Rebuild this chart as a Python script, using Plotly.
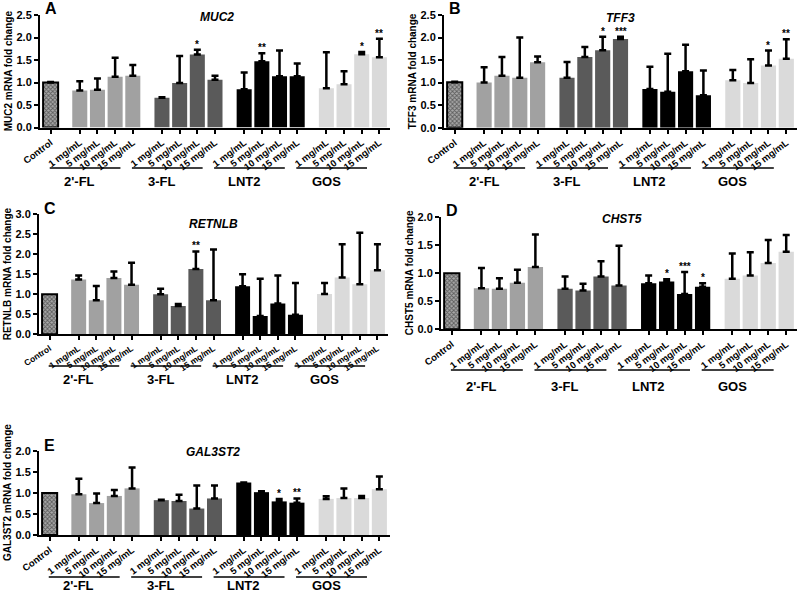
import plotly.graph_objects as go

W, H = 798, 593

categories = ["Control",
              "1 mg/mL", "5 mg/mL", "10 mg/mL", "15 mg/mL",
              "1 mg/mL", "5 mg/mL", "10 mg/mL", "15 mg/mL",
              "1 mg/mL", "5 mg/mL", "10 mg/mL", "15 mg/mL",
              "1 mg/mL", "5 mg/mL", "10 mg/mL", "15 mg/mL"]
groups = ["2'-FL", "3-FL", "LNT2", "GOS"]
group_colors = ["#a1a1a1", "#5a5a5a", "#000000", "#dadada"]
positions = [0,
             1.65, 2.65, 3.65, 4.65,
             6.3, 7.3, 8.3, 9.3,
             10.95, 11.95, 12.95, 13.95,
             15.6, 16.6, 17.6, 18.6]

# Panel A: MUC2
muc2_mean = [1.00, 0.82, 0.84, 1.13, 1.15, 0.66, 0.99, 1.62, 1.06, 0.85, 1.47, 1.14, 1.14, 0.87, 0.96, 1.63, 1.56]
muc2_err = [0.01, 0.21, 0.25, 0.42, 0.24, 0.01, 0.60, 0.11, 0.09, 0.37, 0.18, 0.57, 0.28, 0.80, 0.29, 0.05, 0.41]
muc2_stars = ["", "", "", "", "", "", "", "*", "", "", "**", "", "", "", "", "*", "**"]

# Panel B: TFF3
tff3_mean = [1.01, 1.00, 1.15, 1.11, 1.45, 1.11, 1.57, 1.72, 1.97, 0.86, 0.80, 1.25, 0.72, 1.05, 0.99, 1.38, 1.53]
tff3_err = [0.01, 0.34, 0.42, 0.89, 0.13, 0.35, 0.22, 0.30, 0.05, 0.49, 0.84, 0.59, 0.55, 0.23, 0.53, 0.33, 0.43]
tff3_stars = ["", "", "", "", "", "", "", "*", "***", "", "", "", "", "", "", "*", "**"]

# Panel C: RETNLB
retnlb_mean = [1.00, 1.37, 0.85, 1.41, 1.24, 1.00, 0.71, 1.63, 0.85, 1.20, 0.46, 0.77, 0.49, 1.01, 1.42, 1.25, 1.60]
retnlb_err = [0.00, 0.10, 0.36, 0.16, 0.55, 0.14, 0.05, 0.44, 1.27, 0.30, 0.93, 0.70, 0.79, 0.27, 0.83, 1.29, 0.65]
retnlb_stars = ["", "", "", "", "", "", "", "**", "", "", "", "", "", "", "", "", ""]

# Panel D: CHST5
chst5_mean = [1.00, 0.73, 0.72, 0.83, 1.11, 0.72, 0.69, 0.94, 0.78, 0.82, 0.85, 0.63, 0.76, 0.90, 0.96, 1.18, 1.38]
chst5_err = [0.00, 0.36, 0.19, 0.23, 0.58, 0.22, 0.12, 0.27, 0.71, 0.14, 0.04, 0.39, 0.06, 0.45, 0.41, 0.41, 0.30]
chst5_stars = ["", "", "", "", "", "", "", "", "", "", "*", "***", "*", "", "", "", ""]

# Panel E: GAL3ST2
gal3st2_mean = [1.00, 0.97, 0.76, 0.93, 1.11, 0.83, 0.81, 0.63, 0.87, 1.25, 1.02, 0.80, 0.77, 0.86, 0.88, 0.88, 1.09]
gal3st2_err = [0.00, 0.37, 0.23, 0.14, 0.50, 0.01, 0.15, 0.55, 0.31, 0.00, 0.02, 0.06, 0.10, 0.06, 0.23, 0.05, 0.30]
gal3st2_stars = ["", "", "", "", "", "", "", "", "", "", "", "*", "**", "", "", "", ""]

FONT = "Liberation Sans, Arial, sans-serif"

panels = [
    dict(mean=muc2_mean, err=muc2_err, stars=muc2_stars, gene="MUC2", letter="A", ymax=2.5,
         x0=40, x1=390, yt=15, yb=127.5, ul=168, gl=182, tx=217, ty=17, tfs=9.5, ta=-37),
    dict(mean=tff3_mean, err=tff3_err, stars=tff3_stars, gene="TFF3", letter="B", ymax=2.5,
         x0=444, x1=797, yt=15, yb=127.7, ul=168, gl=182, tx=620, ty=18, tfs=9.5, ta=-37),
    dict(mean=retnlb_mean, err=retnlb_err, stars=retnlb_stars, gene="RETNLB", letter="C", ymax=3.0,
         x0=39, x1=388, yt=214.3, yb=334.3, ul=366, gl=379, tx=213, ty=224, tfs=8.5, ta=-33),
    dict(mean=chst5_mean, err=chst5_err, stars=chst5_stars, gene="CHST5", letter="D", ymax=2.0,
         x0=441, x1=797, yt=217, yb=329.3, ul=370, gl=386, tx=622, ty=219, tfs=9.5, ta=-37),
    dict(mean=gal3st2_mean, err=gal3st2_err, stars=gal3st2_stars, gene="GAL3ST2", letter="E", ymax=2.0,
         x0=39, x1=390, yt=451, yb=535, ul=577, gl=585, tx=213, ty=452, tfs=9.5, ta=-37),
]

def px(x):
    return x / W

def py(y):
    return 1 - y / H

fig = go.Figure()
annotations = []
shapes = []
colors = ["#000000"] + [c for c in group_colors for _ in range(4)]

for i, p in enumerate(panels):
    n = "" if i == 0 else str(i + 1)
    xa, ya = "x" + n, "y" + n
    mean, err = p["mean"], p["err"]
    fig.add_trace(go.Bar(
        x=[positions[0]], y=[mean[0]], width=0.85, xaxis=xa, yaxis=ya,
        marker=dict(color="#8c8c8c", line=dict(color="black", width=2),
                    pattern=dict(shape="x", size=3, solidity=0.5, fgcolor="#111111", bgcolor="#a8a8a8")),
        error_y=dict(type="data", symmetric=False, array=[err[0]], arrayminus=[0],
                     color="black", thickness=2.5, width=3.5, visible=err[0] > 0),
        showlegend=False, hoverinfo="skip"))
    fig.add_trace(go.Bar(
        x=positions[1:], y=mean[1:], width=0.85, xaxis=xa, yaxis=ya,
        marker=dict(color=colors[1:], line=dict(width=0)),
        error_y=dict(type="data", symmetric=False, array=err[1:], arrayminus=[0] * 16,
                     color="black", thickness=2.5, width=3.5),
        showlegend=False, hoverinfo="skip"))

    layout_x = dict(domain=[px(p["x0"]), px(p["x1"])], range=[-0.6, 19.2], anchor=ya,
                    tickvals=positions, ticktext=categories, tickangle=p["ta"],
                    tickfont=dict(family=FONT, size=p["tfs"], color="black", weight="bold"),
                    showline=True, linewidth=2, linecolor="black", ticks="outside",
                    ticklen=4, tickwidth=1.5, tickcolor="black", showgrid=False, zeroline=False,
                    fixedrange=True, automargin=False)
    nt = int(round(p["ymax"] / 0.5))
    tv = [k * 0.5 for k in range(nt + 1)]
    layout_y = dict(domain=[py(p["yb"]), py(p["yt"])], range=[0, p["ymax"]], anchor=xa,
                    tickvals=tv, ticktext=["%.1f" % v for v in tv],
                    tickfont=dict(family=FONT, size=11, color="black", weight="bold"),
                    showline=True, linewidth=2, linecolor="black", ticks="outside",
                    ticklen=4, tickwidth=2, tickcolor="black", showgrid=False, zeroline=False,
                    fixedrange=True, automargin=False)
    fig.update_layout(**{"xaxis" + n: layout_x, "yaxis" + n: layout_y})

    for j, s in enumerate(p["stars"]):
        if s:
            annotations.append(dict(x=positions[j], y=mean[j] + err[j], xref=xa, yref=ya,
                                    text=s, showarrow=False, yanchor="bottom", yshift=-2,
                                    font=dict(family=FONT, size=10, color="black", weight="bold")))
    for g in range(4):
        first = positions[1 + 4 * g]
        shapes.append(dict(type="line", xref=xa, yref="paper", x0=first - 1.7, x1=first + 2.3,
                           y0=py(p["ul"]), y1=py(p["ul"]), line=dict(color="black", width=1.5)))
        annotations.append(dict(x=first, y=py(p["gl"]), xref=xa, yref="paper", text=groups[g],
                                showarrow=False, xanchor="center", yanchor="middle",
                                font=dict(family=FONT, size=13, color="black", weight="bold")))
    annotations.append(dict(x=px(p["tx"]), y=py(p["ty"]), xref="paper", yref="paper",
                            text="<b><i>%s</i></b>" % p["gene"], showarrow=False,
                            xanchor="center", yanchor="middle",
                            font=dict(family=FONT, size=12, color="black")))
    annotations.append(dict(x=px(p["x0"] + 3), y=py(p["yt"] - 6), xref="paper", yref="paper",
                            text="<b>%s</b>" % p["letter"], showarrow=False,
                            xanchor="left", yanchor="middle",
                            font=dict(family=FONT, size=16, color="black")))
    annotations.append(dict(x=px(p["x0"] - 32), y=py((p["yt"] + p["yb"]) / 2), xref="paper", yref="paper",
                            text="<b>%s mRNA fold change</b>" % p["gene"], showarrow=False,
                            textangle=-90, xanchor="center", yanchor="middle",
                            font=dict(family=FONT, size=10, color="black")))

fig.update_layout(width=W, height=H, margin=dict(l=0, r=0, t=0, b=0, autoexpand=False),
                  paper_bgcolor="white", plot_bgcolor="white", barmode="overlay",
                  annotations=annotations, shapes=shapes, showlegend=False)

fig.write_html("out.html", config={"displayModeBar": False},
               post_script="document.body.style.margin='0px';document.body.style.overflow='hidden';")
